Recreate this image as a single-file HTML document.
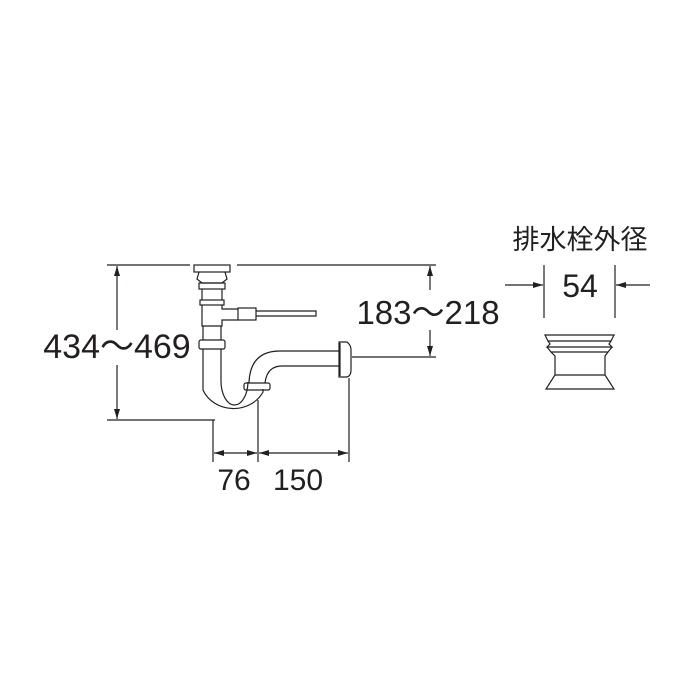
<!DOCTYPE html>
<html><head><meta charset="utf-8"><style>
html,body{margin:0;padding:0;background:#fff;}
svg{display:block}
text{font-family:"Liberation Sans","Noto Sans CJK JP",sans-serif;fill:#231f20}
</style></head><body>
<svg width="700" height="700" viewBox="0 0 700 700" xmlns="http://www.w3.org/2000/svg">
<defs>
<marker id="a" viewBox="0 0 10 6" refX="10" refY="3" markerWidth="10" markerHeight="6" orient="auto-start-reverse" markerUnits="userSpaceOnUse"><path d="M0,0L10,3L0,6z" fill="#231f20"/></marker>
</defs>
<g stroke="#231f20" stroke-width="1.2" fill="none">
<line x1="107" y1="265" x2="190" y2="265"/>
<line x1="237" y1="265" x2="436" y2="265"/>
<line x1="107" y1="420" x2="215" y2="420"/>
<line x1="352" y1="357" x2="436" y2="357"/>
<line x1="117" y1="266" x2="117" y2="330" marker-start="url(#a)"/>
<line x1="117" y1="365" x2="117" y2="419" marker-end="url(#a)"/>
<line x1="430" y1="266" x2="430" y2="290" marker-start="url(#a)"/>
<line x1="430" y1="330" x2="430" y2="356" marker-end="url(#a)"/>
<line x1="213" y1="420" x2="213" y2="462"/>
<line x1="258" y1="400" x2="258" y2="462"/>
<line x1="349" y1="378" x2="349" y2="462"/>
<line x1="214" y1="453" x2="257" y2="453" marker-start="url(#a)" marker-end="url(#a)"/>
<line x1="259" y1="453" x2="348" y2="453" marker-start="url(#a)" marker-end="url(#a)"/>
<rect x="194" y="265" width="36" height="7"/>
<path d="M199,272 L197,279 L202,283 L222,283 L227,279 L225,272"/>
<rect x="199" y="283" width="26" height="6"/>
<rect x="200" y="300" width="24" height="5"/>
<line x1="202" y1="289" x2="202" y2="300"/><line x1="222" y1="289" x2="222" y2="300"/>
<path d="M202,305 L202,326 L222,326 L222,320 L238,320 M222,305 L222,309 L238,309"/>
<rect x="238" y="308" width="18" height="12"/>
<path d="M256,311 L316,311 L316,316 L256,316"/>
<rect x="199" y="340" width="26" height="9" rx="2"/>
<line x1="203" y1="326" x2="203" y2="340"/><line x1="221" y1="326" x2="221" y2="340"/>
<path d="M203,349 L203,390 A33,30 0 0 0 263,392 L263,389"/>
<path d="M221,349 L221,380 A13.5,24 0 0 0 248,382 L248,383"/>
<rect x="244" y="383" width="26" height="7" rx="2"/>
<path d="M249,383 Q250,351 280,351 L340,351"/>
<path d="M265,383 Q267,366 282,366 L340,366"/>
<path d="M339,342 L347,342 Q351,345 351,350 L351,370 Q351,376 347,377 L339,377 Z"/>
<line x1="340" y1="343" x2="340" y2="376"/>
<line x1="544" y1="265" x2="544" y2="318"/>
<line x1="615" y1="265" x2="615" y2="318"/>
<line x1="505" y1="285" x2="543" y2="285" marker-end="url(#a)"/>
<line x1="650" y1="285" x2="616" y2="285" marker-end="url(#a)"/>
<path d="M545,335 L614,335 L611,341 L548,341 Z"/>
<path d="M548,341 L550,344 L547,347 L612,347 L609,344 L611,341"/>
<path d="M547,347 L551,352 L608,352 L612,347"/>
<path d="M551,352 L555,356 L555,375 L546,389 L614,389 L605,375 L605,356 L608,352"/>
<line x1="555" y1="375" x2="605" y2="375"/>
</g>
<text x="117" y="358" font-size="34" text-anchor="middle">434～469</text>
<text x="428" y="324" font-size="33" text-anchor="middle" style="paint-order:stroke" stroke="#fff" stroke-width="6">183～218</text>
<text x="234" y="490" font-size="30" text-anchor="middle">76</text>
<text x="298" y="490" font-size="30" text-anchor="middle">150</text>
<text x="580" y="297" font-size="32" text-anchor="middle" style="paint-order:stroke" stroke="#fff" stroke-width="6">54</text>
<text x="580" y="249" font-size="27" text-anchor="middle">排水栓外径</text>
</svg>
</body></html>
